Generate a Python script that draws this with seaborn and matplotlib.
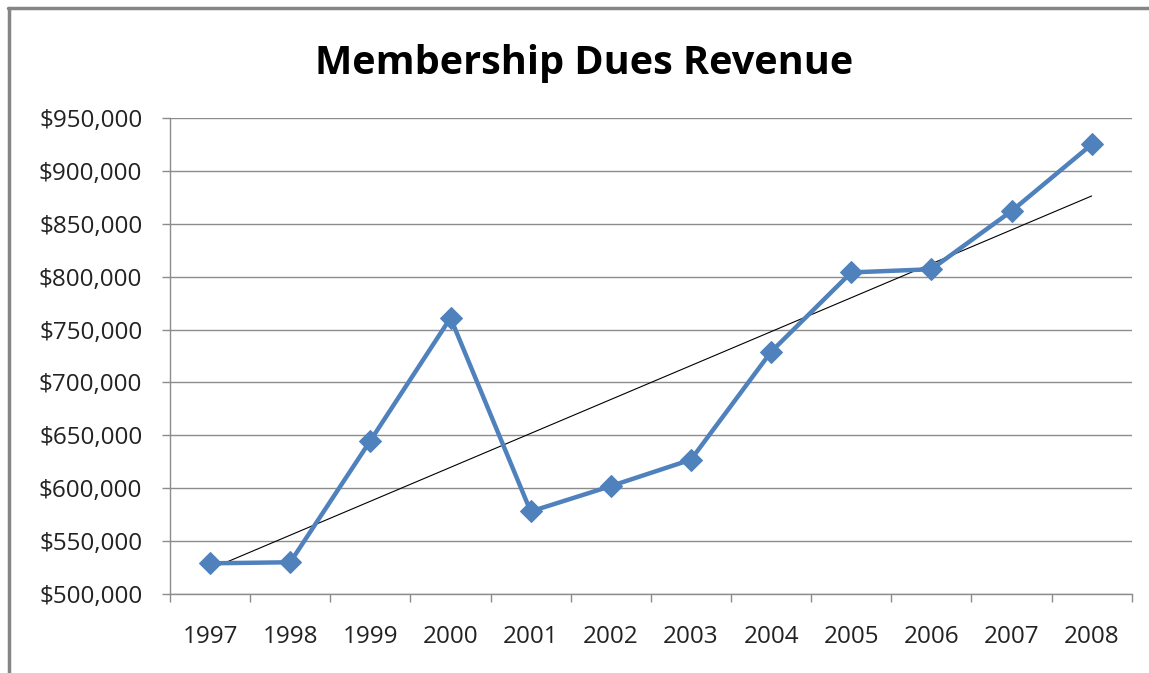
import numpy as np
import pandas as pd
import matplotlib
matplotlib.use('Agg')
import matplotlib.pyplot as plt
import seaborn as sns
from matplotlib.ticker import FuncFormatter
from matplotlib.lines import Line2D

years = ['1997', '1998', '1999', '2000', '2001', '2002',
         '2003', '2004', '2005', '2006', '2007', '2008']
revenue = [529000, 530000, 645000, 761000, 578000, 602000,
           627000, 729000, 804000, 807000, 862000, 925000]

df = pd.DataFrame({'year': years, 'revenue': revenue})
df['pos'] = np.arange(len(df))

sns.set_theme(style='white')
plt.rcParams['font.family'] = ['Open Sans', 'DejaVu Sans']

fig = plt.figure(figsize=(11.49, 6.73), dpi=100)
ax = fig.add_axes([0.148, 0.1174, 0.837, 0.7073])

# linear trendline, as Excel draws it
coef = np.polyfit(df['pos'], df['revenue'], 1)
ax.plot(df['pos'], np.polyval(coef, df['pos']), color='black', lw=0.8, zorder=2)

sns.lineplot(data=df, x='pos', y='revenue', ax=ax, color='#4F81BD', lw=3.2,
             marker='D', markersize=11, markeredgecolor='#4F81BD', zorder=3)

ax.set_xlim(-0.5, len(years) - 0.5)
ax.set_ylim(500000, 950000)
ax.set_yticks(np.arange(500000, 950001, 50000))
ax.yaxis.set_major_formatter(FuncFormatter(lambda v, p: f'${v:,.0f}'))
ax.grid(axis='y', color='#8c8c8c', lw=1)
ax.set_axisbelow(True)

# category labels centered, tick marks between categories
ax.set_xticks(np.arange(-0.5, len(years), 1.0))
ax.set_xticklabels([])
ax.set_xticks(df['pos'], minor=True)
ax.set_xticklabels(years, minor=True)
ax.tick_params(axis='x', which='major', direction='out', length=6, color='#8c8c8c', width=1, bottom=True)
ax.tick_params(axis='x', which='minor', length=0, pad=22, labelsize=17.5, labelcolor='#222222')
ax.tick_params(axis='y', direction='out', length=6, color='#8c8c8c', width=1, left=True,
               pad=14, labelsize=17.5, labelcolor='#222222')

for s in ['top', 'right']:
    ax.spines[s].set_visible(False)
for s in ['left', 'bottom']:
    ax.spines[s].set_color('#8c8c8c')
    ax.spines[s].set_linewidth(1)

ax.set_xlabel('')
ax.set_ylabel('')

fig.text(0.508, 0.906, 'Membership Dues Revenue', ha='center', va='center',
         fontsize=28.5, fontweight='bold', color='black')

# chart border (top and left edges visible)
fig.add_artist(Line2D([0.007, 1.0], [0.988, 0.988], transform=fig.transFigure, color='#858585', lw=2.5))
fig.add_artist(Line2D([0.0075, 0.0075], [0.0, 0.988], transform=fig.transFigure, color='#858585', lw=2.5))

fig.savefig('out.png', dpi=100, facecolor='white')
